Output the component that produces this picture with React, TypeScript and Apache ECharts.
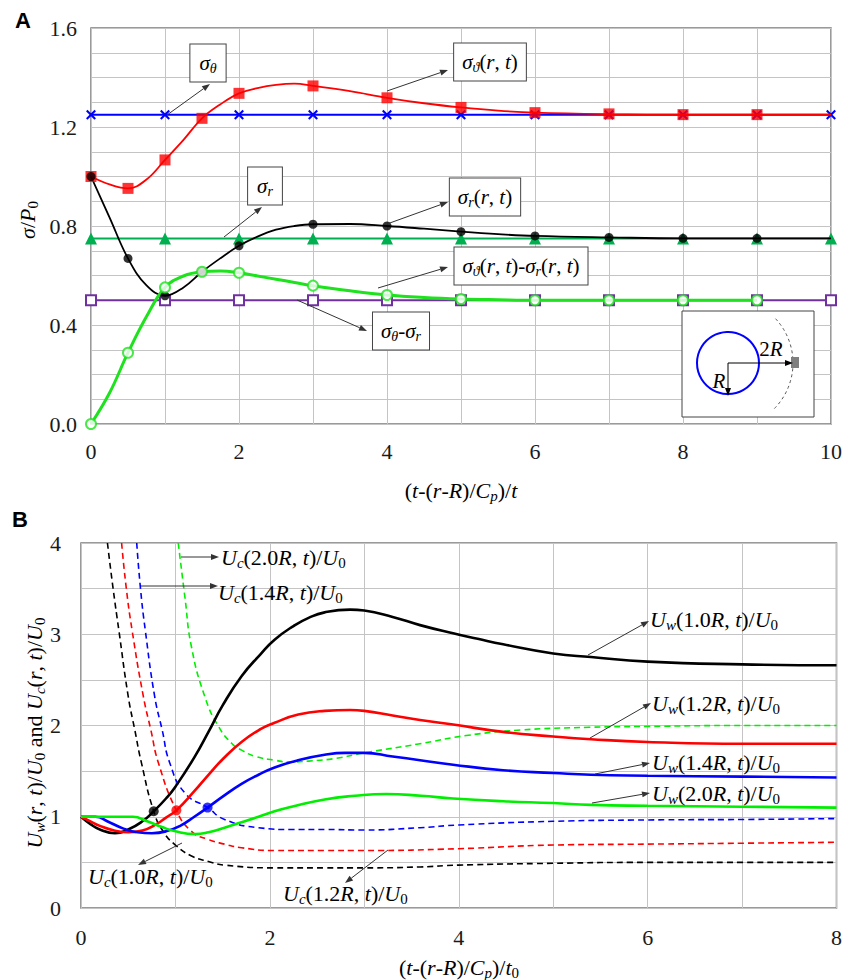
import React, { useEffect, useRef } from 'react';
import * as echarts from 'echarts';

// ---------------- Panel A data ----------------
const topXTickLabels = ['0', '2', '4', '6', '8', '10'];
const topYTickLabels = ['0.0', '0.4', '0.8', '1.2', '1.6'];
const markerX = [0, 0.5, 1, 1.5, 2, 3, 4, 5, 6, 7, 8, 9];
const sigmaThetaRTMarkers = [1.0, 0.952, 1.067, 1.235, 1.336, 1.366, 1.318, 1.279, 1.258, 1.253, 1.25, 1.25];
const sigmaRRTMarkers = [1.0, 0.669, 0.518, 0.615, 0.72, 0.807, 0.8, 0.777, 0.76, 0.754, 0.75, 0.75];
const sigmaDiffRTMarkers = [0.0, 0.288, 0.552, 0.615, 0.611, 0.559, 0.521, 0.505, 0.5, 0.5, 0.5, 0.5];
const curveX = [0, 0.25, 0.5, 0.75, 1, 1.25, 1.5, 1.75, 2, 2.25, 2.5, 2.75, 3, 3.5, 4, 4.5, 5, 5.5, 6, 7, 8, 9, 10];
const sigmaThetaRTCurve = [1.0, 0.968, 0.952, 0.988, 1.067, 1.148, 1.235, 1.292, 1.336, 1.357, 1.37, 1.375, 1.366, 1.345, 1.318, 1.296, 1.279, 1.266, 1.258, 1.252, 1.25, 1.25, 1.25];
const sigmaRRTCurve = [1.0, 0.835, 0.669, 0.56, 0.518, 0.552, 0.615, 0.67, 0.72, 0.757, 0.785, 0.8, 0.807, 0.808, 0.8, 0.789, 0.777, 0.767, 0.76, 0.754, 0.75, 0.75, 0.75];
const sigmaDiffRTCurve = [0.0, 0.125, 0.288, 0.434, 0.552, 0.598, 0.615, 0.618, 0.611, 0.598, 0.585, 0.572, 0.559, 0.538, 0.521, 0.511, 0.505, 0.502, 0.5, 0.5, 0.5, 0.5];
const constX = [0, 1, 2, 3, 4, 5, 6, 7, 8, 9, 10];
const sigmaThetaConst = [1.25, 1.25, 1.25, 1.25, 1.25, 1.25, 1.25, 1.25, 1.25, 1.25, 1.25];
const sigmaRConst = [0.75, 0.75, 0.75, 0.75, 0.75, 0.75, 0.75, 0.75, 0.75, 0.75, 0.75];
const sigmaDiffConst = [0.5, 0.5, 0.5, 0.5, 0.5, 0.5, 0.5, 0.5, 0.5, 0.5, 0.5];

// ---------------- Panel B data ----------------
const botXTickLabels = ['0', '2', '4', '6', '8'];
const botYTickLabels = ['0', '1', '2', '3', '4'];
const uw10X = [0, 0.1, 0.2, 0.36, 0.5, 0.65, 0.77, 0.9, 1.0, 1.2, 1.35, 1.5, 1.7, 1.9, 2.05, 2.25, 2.41, 2.58, 2.85, 3.0, 3.3, 3.59, 3.94, 4.2, 4.47, 5.0, 5.4, 6.0, 7.0, 8.0];
const uw10Y = [1.0, 0.92, 0.86, 0.82, 0.86, 0.95, 1.06, 1.2, 1.33, 1.65, 1.93, 2.22, 2.54, 2.78, 2.94, 3.09, 3.18, 3.24, 3.27, 3.26, 3.19, 3.1, 3.01, 2.95, 2.89, 2.79, 2.75, 2.7, 2.67, 2.66];
const uw12X = [0, 0.1, 0.2, 0.35, 0.5, 0.65, 0.8, 0.9, 1.01, 1.2, 1.35, 1.5, 1.7, 1.9, 2.05, 2.3, 2.58, 2.85, 3.0, 3.3, 3.59, 3.94, 4.47, 5.0, 5.4, 6.0, 7.0, 8.0];
const uw12Y = [1.0, 0.95, 0.9, 0.85, 0.83, 0.85, 0.92, 0.99, 1.07, 1.28, 1.46, 1.63, 1.82, 1.96, 2.03, 2.12, 2.16, 2.17, 2.16, 2.11, 2.06, 2.01, 1.93, 1.88, 1.85, 1.82, 1.8, 1.8];
const uw14X = [0, 0.15, 0.3, 0.45, 0.6, 0.75, 0.9, 1.05, 1.2, 1.34, 1.5, 1.7, 1.88, 2.05, 2.3, 2.58, 2.8, 3.0, 3.3, 3.59, 3.94, 4.47, 5.0, 5.4, 6.0, 7.0, 8.0];
const uw14Y = [1.0, 1.0, 0.94, 0.87, 0.83, 0.82, 0.84, 0.9, 1.0, 1.1, 1.22, 1.36, 1.46, 1.54, 1.62, 1.68, 1.7, 1.7, 1.66, 1.62, 1.57, 1.51, 1.48, 1.46, 1.45, 1.44, 1.43];
const uw20X = [0, 0.55, 0.7, 0.85, 1.0, 1.21, 1.35, 1.52, 1.7, 1.88, 2.05, 2.23, 2.58, 2.9, 3.23, 3.6, 3.94, 4.47, 5.0, 5.4, 6.0, 7.0, 8.0];
const uw20Y = [1.0, 1.0, 0.95, 0.89, 0.84, 0.81, 0.83, 0.88, 0.94, 1.0, 1.06, 1.11, 1.19, 1.23, 1.25, 1.23, 1.2, 1.17, 1.15, 1.13, 1.12, 1.11, 1.1];
const uc10X = [0.28, 0.34, 0.4, 0.5, 0.57, 0.64, 0.77, 0.87, 1.0, 1.17, 1.35, 1.52, 2.05, 2.58, 3.0, 3.59, 4.0, 5.0, 6.0, 7.0, 8.0];
const uc10Y = [4.0, 3.5, 3.05, 2.32, 1.95, 1.59, 1.06, 0.84, 0.69, 0.57, 0.51, 0.47, 0.44, 0.44, 0.44, 0.45, 0.47, 0.49, 0.5, 0.5, 0.5];
const uc12X = [0.43, 0.48, 0.54, 0.66, 0.74, 0.82, 1.01, 1.17, 1.35, 1.52, 1.7, 2.05, 2.58, 3.0, 4.0, 5.0, 6.0, 7.0, 8.0];
const uc12Y = [4.0, 3.5, 3.05, 2.32, 1.95, 1.59, 1.07, 0.84, 0.75, 0.7, 0.66, 0.63, 0.63, 0.63, 0.65, 0.69, 0.7, 0.71, 0.72];
const uc14X = [0.59, 0.63, 0.68, 0.78, 0.86, 0.94, 1.1, 1.34, 1.52, 1.88, 2.23, 2.58, 3.0, 3.59, 4.0, 5.0, 6.0, 7.0, 8.0];
const uc14Y = [4.0, 3.5, 3.05, 2.32, 1.95, 1.59, 1.26, 1.1, 0.97, 0.88, 0.86, 0.86, 0.855, 0.88, 0.91, 0.95, 0.965, 0.97, 0.98];
const uc20X = [1.03, 1.1, 1.17, 1.31, 1.45, 1.6, 1.7, 1.85, 2.05, 2.2, 2.41, 2.7, 3.0, 3.59, 4.08, 4.65, 5.38, 6.0, 7.0, 8.0];
const uc20Y = [4.0, 3.41, 2.86, 2.32, 2.0, 1.8, 1.73, 1.66, 1.62, 1.6, 1.61, 1.64, 1.7, 1.8, 1.89, 1.95, 1.98, 1.99, 2.0, 2.0];
const crossX = [0.77, 1.01, 1.34];
const crossY = [1.06, 1.07, 1.1];

const SERIF = 'Liberation Serif';
const SANS = 'Liberation Sans';
const zip = (xs: number[], ys: number[]) => ys.map((y, i) => [xs[i], y]);

const makeRich = (size: number, sub: number) => ({
  i: { font: `italic ${size}px ${SERIF}`, lineHeight: size + 4, fill: '#000' },
  r: { font: `normal ${size}px ${SERIF}`, lineHeight: size + 4, fill: '#000' },
  si: { font: `italic ${sub}px ${SERIF}`, lineHeight: 6, verticalAlign: 'bottom', fill: '#000' },
  sr: { font: `normal ${sub}px ${SERIF}`, lineHeight: 6, verticalAlign: 'bottom', fill: '#000' },
});
const RICH_BOX = makeRich(21, 14);
const RICH_B = makeRich(22, 15);
const RICH_AX = makeRich(22, 15);

function arrow(x1: number, y1: number, x2: number, y2: number, color = '#333') {
  const a = Math.atan2(y2 - y1, x2 - x1);
  const L = 8;
  const W = 3;
  const bx = x2 - L * Math.cos(a);
  const by = y2 - L * Math.sin(a);
  const px = -Math.sin(a) * W;
  const py = Math.cos(a) * W;
  return [
    { type: 'line', z: 60, shape: { x1, y1, x2: bx, y2: by }, style: { stroke: color, lineWidth: 1 } },
    { type: 'polygon', z: 60, shape: { points: [[x2, y2], [bx + px, by + py], [bx - px, by - py]] }, style: { fill: color } },
  ];
}

function boxText(x: number, y: number, text: string, pad: number[]) {
  return {
    type: 'text', x, y, z: 60,
    style: {
      text, rich: RICH_BOX, align: 'center', verticalAlign: 'middle',
      backgroundColor: '#fff', borderColor: '#444', borderWidth: 1, padding: pad,
    },
  };
}

function plainText(x: number, y: number, text: string, rich: any, align = 'left', rotation = 0) {
  return {
    type: 'text', x, y, z: 60, rotation,
    style: { text, rich, align, verticalAlign: 'middle' },
  };
}

const X_SYMBOL = 'path://M0,1.5L1.5,0L5,3.5L8.5,0L10,1.5L6.5,5L10,8.5L8.5,10L5,6.5L1.5,10L0,8.5L3.5,5Z';

export default function App() {
  const ref = useRef<HTMLDivElement>(null);
  useEffect(() => {
    if (!ref.current) return;
    const chart = echarts.init(ref.current, null, { renderer: 'svg' });
    const gridLine = { show: true, lineStyle: { color: '#c4c4c4', width: 1 } };
    const tickLabel = { fontFamily: SERIF, fontSize: 22, color: '#1a1a1a' };

    const topLine = (name: string, data: number[][], color: string, width: number) => ({
      name, type: 'line', xAxisIndex: 0, yAxisIndex: 0, data, smooth: 0.4, showSymbol: false,
      symbol: 'none', lineStyle: { color, width }, itemStyle: { color }, z: 3,
    });
    const botLine = (name: string, data: number[][], color: string, dashed: boolean) => ({
      name, type: 'line', xAxisIndex: 1, yAxisIndex: 1, data, smooth: 0.5, showSymbol: false,
      symbol: 'none', lineStyle: { color, width: dashed ? 1.6 : 2.6, type: dashed ? [6, 4] : 'solid' },
      itemStyle: { color }, z: dashed ? 3 : 4,
    });

    const graphic: any[] = [
      { type: 'text', x: 23, y: 20, z: 60, style: { text: 'A', font: `bold 22px ${SANS}`, fill: '#000', align: 'center', verticalAlign: 'middle' } },
      { type: 'text', x: 20, y: 519, z: 60, style: { text: 'B', font: `bold 22px ${SANS}`, fill: '#000', align: 'center', verticalAlign: 'middle' } },
      // axis titles
      plainText(27, 220, '{i|σ}{r|/}{i|P}{sr|0}', RICH_AX, 'center', Math.PI / 2),
      plainText(461, 490, '{r|(}{i|t}{r|-(}{i|r}{r|-}{i|R}{r|)/}{i|C}{si|p}{r|)/}{i|t}', RICH_AX, 'center'),
      plainText(34, 733, '{i|U}{si|w}{r|(}{i|r}{r|, }{i|t}{r|)/}{i|U}{sr|0}{r| and }{i|U}{si|c}{r|(}{i|r}{r|, }{i|t}{r|)/}{i|U}{sr|0}', RICH_AX, 'center', Math.PI / 2),
      plainText(459, 967, '{r|(}{i|t}{r|-(}{i|r}{r|-}{i|R}{r|)/}{i|C}{si|p}{r|)/}{i|t}{sr|0}', RICH_AX, 'center'),
      // panel A annotations
      boxText(208, 63, '{i|σ}{si|θ}', [6, 9, 6, 9]),
      ...arrow(167, 115, 210, 84),
      boxText(490, 62, '{i|σ}{si|ϑ}{r|(}{i|r}{r|, }{i|t}{r|)}', [6, 8, 6, 8]),
      ...arrow(387, 91, 448, 70),
      boxText(265, 186, '{i|σ}{si|r}', [6, 9, 6, 9]),
      ...arrow(224, 237, 262, 207),
      boxText(485, 197, '{i|σ}{si|r}{r|(}{i|r}{r|, }{i|t}{r|)}', [6, 8, 6, 8]),
      ...arrow(387, 224, 448, 202),
      boxText(521, 266, '{i|σ}{si|ϑ}{r|(}{i|r}{r|, }{i|t}{r|)-}{i|σ}{si|r}{r|(}{i|r}{r|, }{i|t}{r|)}', [6, 8, 6, 8]),
      ...arrow(378, 288, 448, 267),
      boxText(401, 331, '{i|σ}{si|θ}{r|-}{i|σ}{si|r}', [6, 8, 6, 8]),
      ...arrow(297, 300, 367, 331),
      // inset
      { type: 'rect', z: 55, shape: { x: 682, y: 311, width: 132, height: 106 }, style: { fill: '#fff', stroke: '#444', lineWidth: 1 } },
      { type: 'circle', z: 56, shape: { cx: 728, cy: 363, r: 31 }, style: { fill: 'none', stroke: '#0000ff', lineWidth: 2 } },
      { type: 'arc', z: 56, shape: { cx: 728, cy: 363, r: 65, startAngle: -0.75, endAngle: 0.8 }, style: { fill: 'none', stroke: '#555', lineWidth: 1, lineDash: [3, 3] } },
      { type: 'rect', z: 57, shape: { x: 791, y: 357, width: 8, height: 11 }, style: { fill: '#7f7f7f' } },
      ...arrow(728, 363, 793, 363, '#000'),
      ...arrow(728, 363, 728, 396, '#000'),
      plainText(771, 349, '{r|2}{i|R}', makeRich(21, 13), 'center'),
      plainText(719, 381, '{i|R}', makeRich(21, 13), 'center'),
      // panel B annotations
      ...arrow(181, 557, 219, 557),
      plainText(221, 557, '{i|U}{si|c}{r|(2.0}{i|R}{r|, }{i|t}{r|)/}{i|U}{sr|0}', RICH_B),
      ...arrow(141, 586, 218, 586),
      plainText(218, 592, '{i|U}{si|c}{r|(1.4}{i|R}{r|, }{i|t}{r|)/}{i|U}{sr|0}', RICH_B),
      ...arrow(588, 655, 649, 621),
      plainText(650, 619, '{i|U}{si|w}{r|(1.0}{i|R}{r|, }{i|t}{r|)/}{i|U}{sr|0}', RICH_B),
      ...arrow(590, 738, 651, 703),
      plainText(652, 703, '{i|U}{si|w}{r|(1.2}{i|R}{r|, }{i|t}{r|)/}{i|U}{sr|0}', RICH_B),
      ...arrow(595, 774, 650, 763),
      plainText(652, 762, '{i|U}{si|w}{r|(1.4}{i|R}{r|, }{i|t}{r|)/}{i|U}{sr|0}', RICH_B),
      ...arrow(592, 803, 650, 793),
      plainText(652, 793, '{i|U}{si|w}{r|(2.0}{i|R}{r|, }{i|t}{r|)/}{i|U}{sr|0}', RICH_B),
      ...arrow(182, 843, 138, 865),
      plainText(88, 876, '{i|U}{si|c}{r|(1.0}{i|R}{r|, }{i|t}{r|)/}{i|U}{sr|0}', RICH_B),
      ...arrow(388, 850, 345, 883),
      plainText(283, 893, '{i|U}{si|c}{r|(1.2}{i|R}{r|, }{i|t}{r|)/}{i|U}{sr|0}', RICH_B),
    ];

    chart.setOption({
      animation: false,
      backgroundColor: '#fff',
      grid: [
        { left: 91, top: 28, width: 740, height: 396, show: true, borderColor: '#7a7a7a', borderWidth: 1.5, backgroundColor: '#fff' },
        { left: 81, top: 543, width: 756, height: 365, show: true, borderColor: '#7a7a7a', borderWidth: 1.5, backgroundColor: '#fff' },
      ],
      xAxis: [
        {
          type: 'value', gridIndex: 0, min: 0, max: 10, interval: 1,
          axisLine: { show: false }, axisTick: { show: false }, splitLine: gridLine,
          axisLabel: { ...tickLabel, margin: 16, formatter: (v: number) => (topXTickLabels.includes(String(Math.round(v))) ? String(Math.round(v)) : '') },
        },
        {
          type: 'value', gridIndex: 1, min: 0, max: 8, interval: 1,
          axisLine: { show: false }, axisTick: { show: false }, splitLine: gridLine,
          axisLabel: { ...tickLabel, margin: 18, formatter: (v: number) => (botXTickLabels.includes(String(Math.round(v))) ? String(Math.round(v)) : '') },
        },
      ],
      yAxis: [
        {
          type: 'value', gridIndex: 0, min: 0, max: 1.6, interval: 0.1,
          axisLine: { show: false }, axisTick: { show: false }, splitLine: gridLine,
          axisLabel: { ...tickLabel, margin: 14, formatter: (v: number) => (topYTickLabels.includes(v.toFixed(1)) ? v.toFixed(1) : '') },
        },
        {
          type: 'value', gridIndex: 1, min: 0, max: 4, interval: 0.5,
          axisLine: { show: false }, axisTick: { show: false }, splitLine: gridLine,
          axisLabel: { ...tickLabel, margin: 20, formatter: (v: number) => (botYTickLabels.includes(String(v)) ? String(v) : '') },
        },
      ],
      series: [
        // Panel A
        {
          name: 'σθ-σr', type: 'line', xAxisIndex: 0, yAxisIndex: 0, data: zip(constX, sigmaDiffConst),
          symbol: 'emptyRect', symbolSize: 10, lineStyle: { color: '#7030a0', width: 2 }, itemStyle: { color: '#7030a0', borderWidth: 1.5 }, z: 2,
        },
        {
          name: 'σr', type: 'line', xAxisIndex: 0, yAxisIndex: 0, data: zip(constX, sigmaRConst),
          symbol: 'triangle', symbolSize: 12, lineStyle: { color: '#00b050', width: 2 }, itemStyle: { color: '#00b050' }, z: 2,
        },
        {
          name: 'σθ', type: 'line', xAxisIndex: 0, yAxisIndex: 0, data: zip(constX, sigmaThetaConst),
          symbol: X_SYMBOL, symbolSize: 10, lineStyle: { color: '#0000ff', width: 2 }, itemStyle: { color: '#0000ff' }, z: 2,
        },
        topLine('σθ(r,t) curve', zip(curveX, sigmaThetaRTCurve), '#ff0000', 1.8),
        {
          name: 'σθ(r,t)', type: 'scatter', xAxisIndex: 0, yAxisIndex: 0, data: zip(markerX, sigmaThetaRTMarkers),
          symbol: 'rect', symbolSize: 11, itemStyle: { color: '#ff0000' }, z: 5,
        },
        topLine('σr(r,t) curve', zip(curveX, sigmaRRTCurve), '#000000', 1.8),
        {
          name: 'σr(r,t)', type: 'scatter', xAxisIndex: 0, yAxisIndex: 0, data: zip(markerX, sigmaRRTMarkers),
          symbol: 'circle', symbolSize: 9, itemStyle: { color: '#000000' }, z: 5,
        },
        topLine('σθ(r,t)-σr(r,t) curve', zip(curveX, sigmaDiffRTCurve), '#1de21d', 3),
        {
          name: 'σθ(r,t)-σr(r,t)', type: 'scatter', xAxisIndex: 0, yAxisIndex: 0, data: zip(markerX, sigmaDiffRTMarkers),
          symbol: 'emptyCircle', symbolSize: 10, itemStyle: { color: '#1de21d', borderWidth: 2 }, z: 5,
        },
        // Panel B
        botLine('Uc(1.0R)', zip(uc10X, uc10Y), '#000000', true),
        botLine('Uc(1.2R)', zip(uc12X, uc12Y), '#ff0000', true),
        botLine('Uc(1.4R)', zip(uc14X, uc14Y), '#0000ff', true),
        botLine('Uc(2.0R)', zip(uc20X, uc20Y), '#00ee00', true),
        botLine('Uw(1.0R)', zip(uw10X, uw10Y), '#000000', false),
        botLine('Uw(1.2R)', zip(uw12X, uw12Y), '#ff0000', false),
        botLine('Uw(1.4R)', zip(uw14X, uw14Y), '#0000ff', false),
        botLine('Uw(2.0R)', zip(uw20X, uw20Y), '#00ee00', false),
        {
          name: 'crossings', type: 'scatter', xAxisIndex: 1, yAxisIndex: 1, data: zip(crossX, crossY),
          symbolSize: 10, z: 6,
          itemStyle: { color: (p: any) => ['#000000', '#ff0000', '#0000ff'][p.dataIndex] },
          symbol: 'circle',
        },
      ],
      graphic,
    });
    return () => chart.dispose();
  }, []);
  return <div ref={ref} style={{ position: 'absolute', left: 0, top: 0, width: 845, height: 980 }} />;
}
